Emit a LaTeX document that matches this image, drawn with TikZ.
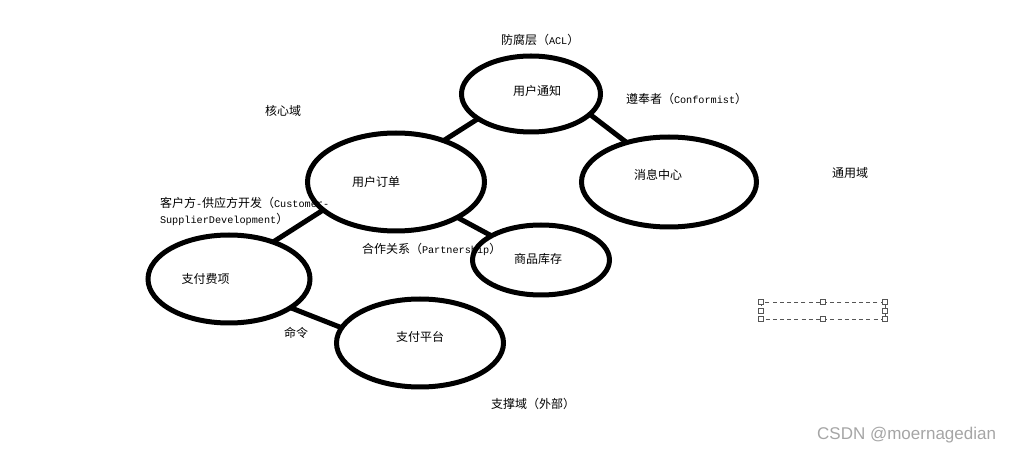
\documentclass[tikz,border=0pt]{standalone}
\usepackage{fontspec}
\usetikzlibrary{shapes.geometric}
\newfontfamily\cjk{Noto Sans CJK SC}
\newfontfamily\lat{Liberation Mono}
\newfontfamily\wm{Liberation Sans}
\definecolor{handlegray}{RGB}{85,85,85}
\definecolor{markgray}{RGB}{165,165,165}
\tikzset{
  dombubble/.style={ellipse,draw=black,line width=5pt,inner sep=0pt,outer sep=0pt,font=\cjk\fontsize{12}{13}\selectfont},
  domlink/.style={draw=black,line width=5pt},
  notetext/.style={inner sep=0pt,outer sep=0pt,anchor=west,font=\cjk\fontsize{12}{15}\selectfont},
  handlebox/.style={draw=handlegray,fill=white,line width=0.9pt,minimum size=5pt,inner sep=0pt,outer sep=0pt,rectangle},
  edgebox/.style={draw=handlegray,line width=0.8pt,dash pattern=on 4pt off 3.2pt}
}
\newcommand{\lattxt}[1]{{\lat\fontsize{10.2}{15}\selectfont #1}}
\begin{document}
\begin{tikzpicture}[x=1pt,y=-1pt]
\useasboundingbox (0,0) rectangle (1010,454);
% labels
\node[notetext] (acl) at (501,40) {防腐层（\lattxt{ACL}）};
\node[notetext] (conf) at (626,99) {遵奉者（\lattxt{Conformist}）};
\node[notetext] (core) at (265,111) {核心域};
\node[notetext] (gen) at (832,173) {通用域};
\node[notetext] (cs1) at (160,203) {客户方\lattxt{-}供应方开发（\lattxt{Customer-}};
\node[notetext] (cs2) at (160,219) {\lattxt{SupplierDevelopment}）};
\node[notetext] (part) at (362,249) {合作关系（\lattxt{Partnership}）};
\node[notetext] (cmd) at (284,333) {命令};
\node[notetext] (sup) at (491,404) {支撑域（外部）};
% domains
\node[dombubble,minimum width=139pt,minimum height=76pt] (notice) at (531,94) {\raisebox{8pt}{\hspace{12pt}用户通知}};
\node[dombubble,minimum width=177pt,minimum height=98pt] (order) at (396,182) {\raisebox{-5pt}{\hspace{-40pt}用户订单}};
\node[dombubble,minimum width=175pt,minimum height=90pt] (msg) at (669,182) {\raisebox{16pt}{\hspace{-22pt}消息中心}};
\node[dombubble,minimum width=137pt,minimum height=70pt] (stock) at (541,260) {\raisebox{3pt}{\hspace{-6pt}商品库存}};
\node[dombubble,minimum width=162pt,minimum height=88pt] (fee) at (229,279) {\hspace{-47pt}支付费项};
\node[dombubble,minimum width=167pt,minimum height=88pt] (pay) at (420,343) {\raisebox{13pt}{支付平台}};
% connectors
\draw[domlink] (order.41) -- (notice.205);
\draw[domlink] (notice.341) -- (msg.137);
\draw[domlink] (order.330) -- (stock.154);
\draw[domlink] (fee.40) -- (order.201);
\draw[domlink] (fee.335) -- (pay.169);
% selection box
\draw[edgebox] (761,302) rectangle (885,319);
\node[handlebox] (h1) at (761,302) {};
\node[handlebox] (h2) at (823,302) {};
\node[handlebox] (h3) at (885,302) {};
\node[handlebox] (h4) at (761,311) {};
\node[handlebox] (h5) at (885,311) {};
\node[handlebox] (h6) at (761,319) {};
\node[handlebox] (h7) at (823,319) {};
\node[handlebox] (h8) at (885,319) {};
% watermark
\node[inner sep=0pt,anchor=west,text=markgray,font=\wm\fontsize{17}{18}\selectfont] (mark) at (817,435) {CSDN @moernagedian};
\end{tikzpicture}
\end{document}
